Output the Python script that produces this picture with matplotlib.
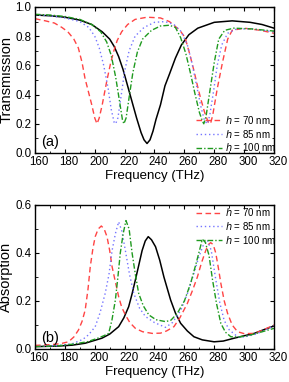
import matplotlib
matplotlib.use("Agg")
import matplotlib.pyplot as plt
from matplotlib.ticker import MultipleLocator
from matplotlib.transforms import ScaledTranslation

plt.rcParams["font.family"] = ["Liberation Sans", "DejaVu Sans"]

# ---- transmission, panel (a) ----
f_t_black = [160, 170, 180, 190, 198, 205, 210, 213, 216, 219, 222, 225, 228, 231, 233,
             235, 237, 239, 241, 244, 247, 250, 254, 258, 263, 269, 280, 292, 304, 312, 320]
t_black = [0.945, 0.94, 0.93, 0.91, 0.88, 0.83, 0.78, 0.73, 0.66, 0.57, 0.46, 0.35, 0.24, 0.14, 0.09,
           0.065, 0.09, 0.15, 0.23, 0.33, 0.46, 0.54, 0.65, 0.74, 0.81, 0.855, 0.895, 0.905, 0.895, 0.88, 0.855]

f_t_70 = [160, 167, 173, 178, 182, 186, 189, 191.5, 193.5, 196, 198, 200, 201.5, 203, 205, 208,
          210.5, 212.5, 215, 218, 222, 227, 235, 244, 250, 253, 257, 260.5, 263.5, 266.5, 269,
          271, 273.5, 276, 277.5, 279, 282, 285.5, 289, 292, 300, 311, 320]
t_70 = [0.92, 0.905, 0.89, 0.86, 0.83, 0.78, 0.72, 0.62, 0.51, 0.41, 0.33, 0.24, 0.2, 0.24, 0.33, 0.49,
        0.61, 0.69, 0.77, 0.83, 0.88, 0.915, 0.93, 0.925, 0.9, 0.875, 0.84, 0.79, 0.68, 0.56, 0.45,
        0.37, 0.28, 0.21, 0.2, 0.26, 0.44, 0.62, 0.78, 0.84, 0.855, 0.84, 0.82]

f_t_85 = [160, 170, 180, 190, 196, 200, 203, 206, 209, 211, 213, 214, 215.5, 217.5, 220, 223,
          227, 233, 240, 247, 253, 258, 262, 265, 268, 271, 273.5, 275.5, 277, 279.5, 282, 285,
          289, 295, 305, 320]
t_85 = [0.945, 0.94, 0.925, 0.9, 0.86, 0.8, 0.72, 0.6, 0.44, 0.3, 0.21, 0.2, 0.24, 0.38, 0.56, 0.7,
        0.8, 0.86, 0.895, 0.9, 0.88, 0.83, 0.74, 0.62, 0.47, 0.32, 0.22, 0.2, 0.26, 0.42, 0.6, 0.74,
        0.82, 0.85, 0.85, 0.83]

f_t_100 = [160, 170, 180, 190, 198, 204, 208, 211, 214, 216.5, 218.5, 219.5, 221, 223, 225.5,
           228.5, 232, 238, 244, 250, 254, 257.5, 261, 264, 267, 270, 272, 273, 274.5, 277, 280,
           283, 287, 293, 305, 320]
t_100 = [0.95, 0.945, 0.935, 0.915, 0.88, 0.83, 0.76, 0.67, 0.52, 0.36, 0.23, 0.2, 0.24, 0.38, 0.55,
         0.69, 0.78, 0.84, 0.87, 0.875, 0.86, 0.79, 0.68, 0.55, 0.41, 0.28, 0.22, 0.2, 0.25, 0.42, 0.62,
         0.78, 0.84, 0.855, 0.85, 0.835]

# ---- absorption, panel (b) ----
f_a_black = [160, 175, 185, 193.6, 204.8, 210, 216, 219.5, 222.7, 225, 227.2, 229.5, 231.7, 233.8,
             235.8, 238, 240.7, 243.5, 246.3, 250.8, 254, 257.5, 262, 266.4, 272, 279.9, 286,
             293.3, 300, 306.8, 313, 320]
a_black = [0.01, 0.012, 0.016, 0.024, 0.045, 0.062, 0.093, 0.13, 0.176, 0.23, 0.288, 0.35, 0.41, 0.45,
           0.468, 0.455, 0.426, 0.37, 0.30, 0.204, 0.15, 0.107, 0.075, 0.051, 0.038, 0.030, 0.033,
           0.045, 0.055, 0.065, 0.08, 0.096]

f_a_70 = [160, 170, 177, 182.4, 186, 189.1, 191.5, 193.6, 195.5, 197, 198.8, 200.3, 202.3, 204.4,
          206.3, 208.2, 210, 211.6, 213.8, 216, 218, 220.5, 223.5, 227.2, 232, 238.5, 244, 248,
          253, 257, 262, 265.5, 268.7, 271.5, 274.3, 276, 277.6, 279.3, 281, 282.7, 284.4, 286.7,
          288.9, 292, 295.6, 300, 306.8, 313, 320]
a_70 = [0.015, 0.018, 0.022, 0.03, 0.05, 0.079, 0.115, 0.1625, 0.25, 0.343, 0.42, 0.468, 0.5, 0.5125,
        0.5, 0.468, 0.41, 0.343, 0.28, 0.218, 0.175, 0.142, 0.11, 0.086, 0.072, 0.065, 0.066, 0.075,
        0.093, 0.13, 0.19, 0.245, 0.30, 0.36, 0.41, 0.435, 0.443, 0.435, 0.40, 0.34, 0.274, 0.2,
        0.149, 0.1, 0.072, 0.064, 0.065, 0.08, 0.1]

f_a_85 = [160, 175, 185, 192, 196, 200.3, 203.5, 207, 209.5, 211.6, 213.8, 216, 218.2, 220.5,
          223.3, 226.1, 230, 234, 240, 247.4, 252, 257.5, 262, 266.4, 269.5, 272.5, 275.4, 278,
          281, 283.8, 286.6, 290, 295.6, 300, 306.8, 313, 320]
a_85 = [0.01, 0.014, 0.022, 0.04, 0.06, 0.093, 0.15, 0.232, 0.31, 0.41, 0.48, 0.53, 0.49, 0.41,
        0.31, 0.232, 0.17, 0.135, 0.11, 0.09, 0.11, 0.16, 0.23, 0.315, 0.38, 0.43, 0.454, 0.41,
        0.29, 0.19, 0.12, 0.08, 0.051, 0.05, 0.06, 0.075, 0.097]

f_a_100 = [160, 175, 185, 195, 202, 206, 209.3, 211.5, 213.8, 215.5, 217.1, 219, 220.9, 223,
           225, 227.2, 229.4, 232.5, 236.2, 241, 247.4, 251, 255.3, 260, 264.2, 268, 270.5, 272,
           274, 276.5, 278.8, 281.5, 284.4, 287.5, 291.1, 296, 302.3, 310, 320]
a_100 = [0.01, 0.013, 0.02, 0.03, 0.045, 0.055, 0.065, 0.12, 0.204, 0.3, 0.40, 0.48, 0.535, 0.5,
         0.40, 0.31, 0.232, 0.18, 0.142, 0.122, 0.114, 0.12, 0.149, 0.2, 0.274, 0.36, 0.42, 0.457,
         0.445, 0.39, 0.29, 0.19, 0.107, 0.07, 0.051, 0.05, 0.055, 0.068, 0.086]

labels = ["$h$ = 70 nm", "$h$ = 85 nm", "$h$ = 100 nm"]
RED, BLUE, GREEN = "#ff4444", "#7575ff", "#1f9a1f"
DASH, DOT, DASHDOT = (0, (4, 2.5)), (0, (1, 2)), (0, (4, 1.5, 1, 1.5))


def style_axes(ax):
    ax.set_xlim(160, 320)
    ax.xaxis.set_major_locator(MultipleLocator(20))
    ax.xaxis.set_minor_locator(MultipleLocator(10))
    ax.tick_params(which="both", direction="in", top=True, right=True,
                   labelsize=8.3, pad=2.5)
    ax.tick_params(which="major", length=3, width=0.8)
    ax.tick_params(which="minor", length=1.8, width=0.6)
    for sp in ax.spines.values():
        sp.set_linewidth(1.0)
    ax.set_xlabel("Frequency (THz)", fontsize=9.5, labelpad=1)
    # tick numbers in the source sit a few px right of their ticks
    shift = ScaledTranslation(4 / 100, 0, fig.dpi_scale_trans)
    for lab in ax.get_xticklabels():
        lab.set_transform(lab.get_transform() + shift)


fig = plt.figure(figsize=(2.89, 3.82), dpi=100)
ax1 = fig.add_axes([0.1211, 0.5995, 0.827, 0.3822])
ax2 = fig.add_axes([0.1211, 0.0864, 0.827, 0.377])

# panel (a)
ax1.plot(f_t_black, t_black, color="black", lw=1.1)
ax1.plot(f_t_70, t_70, color=RED, lw=1.0, ls=DASH, label=labels[0])
ax1.plot(f_t_85, t_85, color=BLUE, lw=1.0, ls=DOT, label=labels[1])
ax1.plot(f_t_100, t_100, color=GREEN, lw=1.0, ls=DASHDOT, label=labels[2])
style_axes(ax1)
ax1.set_ylim(0, 1.0)
ax1.yaxis.set_major_locator(MultipleLocator(0.2))
ax1.yaxis.set_minor_locator(MultipleLocator(0.1))
ax1.set_ylabel("Transmission", fontsize=10.5, labelpad=1.5)
ax1.text(0.025, 0.05, "(a)", transform=ax1.transAxes, fontsize=10.5)
ax1.legend(loc="lower right", bbox_to_anchor=(1.015, -0.01), fontsize=7,
           frameon=False, handlelength=2.6, handletextpad=0.4,
           labelspacing=0.2, borderaxespad=0.0, borderpad=0.1)

# panel (b)
ax2.plot(f_a_black, a_black, color="black", lw=1.1)
ax2.plot(f_a_70, a_70, color=RED, lw=1.0, ls=DASH, label=labels[0])
ax2.plot(f_a_85, a_85, color=BLUE, lw=1.0, ls=DOT, label=labels[1])
ax2.plot(f_a_100, a_100, color=GREEN, lw=1.0, ls=DASHDOT, label=labels[2])
style_axes(ax2)
ax2.set_ylim(0, 0.6)
ax2.yaxis.set_major_locator(MultipleLocator(0.2))
ax2.yaxis.set_minor_locator(MultipleLocator(0.1))
ax2.set_ylabel("Absorption", fontsize=10.5, labelpad=1.5)
ax2.text(0.025, 0.05, "(b)", transform=ax2.transAxes, fontsize=10.5)
ax2.legend(loc="upper right", bbox_to_anchor=(1.015, 1.0), fontsize=7,
           frameon=False, handlelength=2.6, handletextpad=0.4,
           labelspacing=0.2, borderaxespad=0.0, borderpad=0.1)

fig.savefig("out.png", dpi=100)
